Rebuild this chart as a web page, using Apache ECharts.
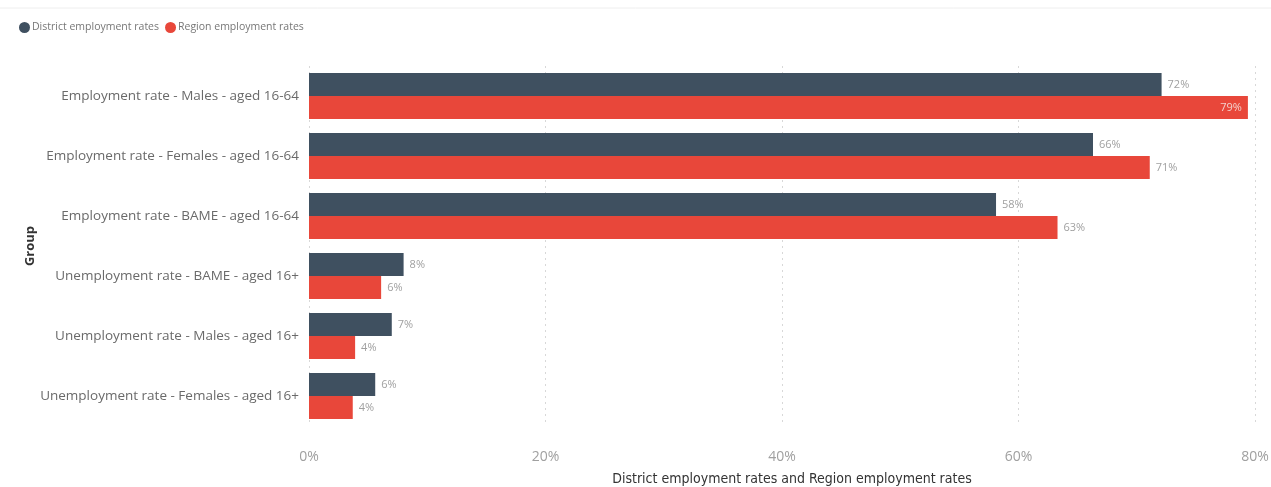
<!DOCTYPE html>
<html><head><meta charset="utf-8">
<script src="https://cdn.jsdelivr.net/npm/echarts@6/dist/echarts.min.js"></script>
<style>html,body{margin:0;padding:0;background:#fff}#c{width:1271px;height:487px}</style>
</head><body><div id="c"></div>
<script>
const categories = [
  "Employment rate - Males - aged 16-64",
  "Employment rate - Females - aged 16-64",
  "Employment rate - BAME - aged 16-64",
  "Unemployment rate - BAME - aged 16+",
  "Unemployment rate - Males - aged 16+",
  "Unemployment rate - Females - aged 16+"
];
const districtRates = [72.1, 66.3, 58.1, 8.0, 7.0, 5.6];
const regionRates = [79.4, 71.1, 63.3, 6.1, 3.9, 3.7];
const xTicks = [0, 20, 40, 60, 80];
const yAxisTitle = 'Group';

const chart = echarts.init(document.getElementById('c'));
const font = "'Open Sans', 'Noto Sans', sans-serif";
function lbl(pos, color) {
  return { show: true, position: pos, distance: 6, color: color, fontSize: 11, fontFamily: font,
    formatter: p => Math.round(p.value) + '%' };
}
const regData = regionRates.map((v, i) => i === 0 ? { value: v, label: { position: 'insideRight', color: '#f3d0cc' } } : v);
chart.setOption({
  animation: false,
  textStyle: { fontFamily: font },
  legend: {
    left: 14, top: 17, itemWidth: 11, itemHeight: 11, itemGap: 6, icon: 'circle',
    textStyle: { color: '#777', fontSize: 10.5, fontFamily: font, padding: [0, 0, 0, -3] },
    data: ['District employment rates', 'Region employment rates']
  },
  graphic: [
    { type: 'line', shape: { x1: 0, y1: 8, x2: 1271, y2: 8 }, style: { stroke: '#eeeeee', lineWidth: 1 } },
    { type: 'text', x: 30, y: 246, rotation: Math.PI / 2,
      style: { text: yAxisTitle, fill: '#333', font: "bold 13px 'Open Sans', sans-serif", align: 'center', verticalAlign: 'middle' } }
  ],
  grid: { left: 309, right: 16, top: 66, bottom: 61, containLabel: false, outerBoundsMode: 'none' },
  xAxis: {
    type: 'value', min: 0, max: 80, interval: 20,
    axisLabel: { formatter: v => xTicks.includes(v) ? v + '%' : '', color: '#a0a0a0', fontSize: 14, margin: 24, fontFamily: font },
    splitLine: { show: true, lineStyle: { type: [2, 4], color: '#d8d8d8' } },
    axisLine: { show: false }, axisTick: { show: false },
    name: 'District employment rates and Region employment rates', nameLocation: 'middle', nameGap: 46,
    nameTextStyle: { color: '#333', fontSize: 14, padding: [0, 0, 0, 20], fontFamily: "'DejaVu Sans Condensed', 'Roboto Condensed', Roboto, sans-serif" }
  },
  yAxis: {
    type: 'category', data: categories, inverse: true,
    axisLine: { show: false }, axisTick: { show: false },
    axisLabel: { color: '#6a6a6a', fontSize: 13.5, margin: 10, fontFamily: font }
  },
  series: [
    { name: 'District employment rates', type: 'bar', data: districtRates, barGap: '0%', barCategoryGap: '23%',
      itemStyle: { color: '#3F5060' }, label: lbl('right', '#a0a0a0') },
    { name: 'Region employment rates', type: 'bar', data: regData,
      itemStyle: { color: '#E8473A' },
      label: lbl('right', '#a0a0a0') }
  ]
});
</script></body></html>
